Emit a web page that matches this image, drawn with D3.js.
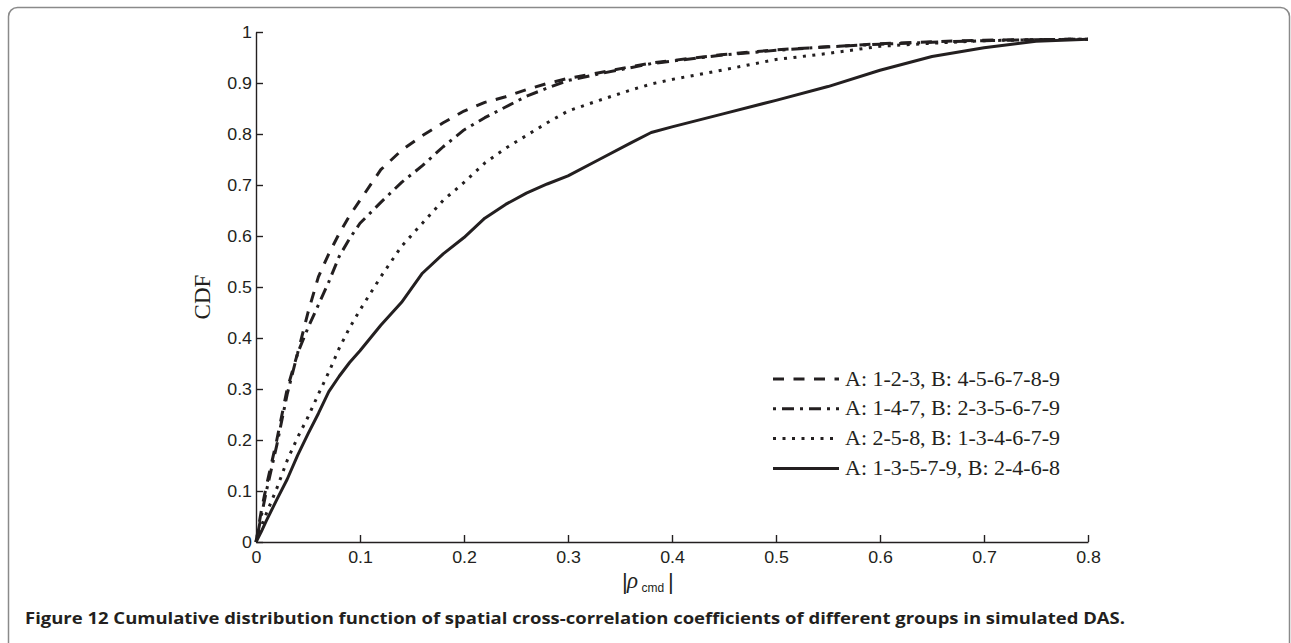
<!DOCTYPE html>
<html>
<head>
<meta charset="utf-8">
<script src="https://cdn.jsdelivr.net/npm/d3@7"></script>
<style>
  body { margin: 0; background: #ffffff; }
  svg { display: block; }
</style>
</head>
<body>
<svg id="chart" width="1291" height="643"></svg>
<script>
// |rho_cmd| sample points shared by all four empirical CDF curves
const rhoGrid = [0, 0.005, 0.01, 0.02, 0.03, 0.04, 0.05, 0.06, 0.07, 0.08, 0.09, 0.10,
  0.12, 0.14, 0.16, 0.18, 0.20, 0.22, 0.24, 0.26, 0.28, 0.30, 0.33, 0.36, 0.38, 0.40,
  0.45, 0.50, 0.55, 0.60, 0.65, 0.70, 0.75, 0.80];

// A: 1-2-3, B: 4-5-6-7-8-9
const cdfA123 = [0, 0.06, 0.11, 0.20, 0.30, 0.37, 0.45, 0.52, 0.565, 0.605, 0.64, 0.67,
  0.73, 0.768, 0.797, 0.822, 0.845, 0.862, 0.873, 0.887, 0.899, 0.909, 0.92, 0.932, 0.939, 0.944,
  0.956, 0.965, 0.971, 0.977, 0.981, 0.984, 0.985, 0.986];

// A: 1-4-7, B: 2-3-5-6-7-9
const cdfA147 = [0, 0.05, 0.10, 0.19, 0.29, 0.37, 0.42, 0.465, 0.51, 0.56, 0.595, 0.625,
  0.666, 0.705, 0.738, 0.775, 0.808, 0.832, 0.853, 0.874, 0.89, 0.905, 0.918, 0.93, 0.938, 0.943,
  0.955, 0.964, 0.971, 0.976, 0.98, 0.983, 0.985, 0.986];

// A: 2-5-8, B: 1-3-4-6-7-9
const cdfA258 = [0, 0.03, 0.056, 0.105, 0.16, 0.205, 0.245, 0.29, 0.333, 0.38, 0.42, 0.455,
  0.52, 0.58, 0.625, 0.67, 0.705, 0.743, 0.772, 0.797, 0.822, 0.845, 0.866, 0.886, 0.898, 0.907,
  0.926, 0.946, 0.958, 0.972, 0.978, 0.983, 0.985, 0.986];

// A: 1-3-5-7-9, B: 2-4-6-8
const cdfA13579 = [0, 0.02, 0.042, 0.083, 0.123, 0.17, 0.212, 0.252, 0.295, 0.325, 0.352, 0.375,
  0.425, 0.47, 0.527, 0.565, 0.597, 0.635, 0.662, 0.684, 0.702, 0.718, 0.75, 0.782, 0.803, 0.814,
  0.84, 0.866, 0.893, 0.925, 0.952, 0.969, 0.982, 0.986];

const seriesLabels = [
  "A: 1-2-3, B: 4-5-6-7-8-9",
  "A: 1-4-7, B: 2-3-5-6-7-9",
  "A: 2-5-8, B: 1-3-4-6-7-9",
  "A: 1-3-5-7-9, B: 2-4-6-8"
];

const xTicks = [0, 0.1, 0.2, 0.3, 0.4, 0.5, 0.6, 0.7, 0.8];
const yTicks = [0, 0.1, 0.2, 0.3, 0.4, 0.5, 0.6, 0.7, 0.8, 0.9, 1];

const yLabel = "CDF";
const captionLead = "Figure 12";
const captionBody = " Cumulative distribution function of spatial cross-correlation coefficients of different groups in simulated DAS.";

// ---- drawing ----
const ink = "#231f20";
const lineStyles = ["11,9.5", "3,6,12,6", "3,6.5", null];
const seriesValues = [cdfA123, cdfA147, cdfA258, cdfA13579];

const svg = d3.select("#chart");

// figure frame
svg.append("rect")
  .attr("x", 8.5).attr("y", 7.5)
  .attr("width", 1281).attr("height", 700)
  .attr("rx", 9).attr("ry", 9)
  .attr("fill", "none")
  .attr("stroke", "#8a8a8a")
  .attr("stroke-width", 1.5);

const x = d3.scaleLinear().domain([0, 0.8]).range([256, 1088]);
const y = d3.scaleLinear().domain([0, 1]).range([542, 32]);
const stretch = 1.08;

// x axis, ticks pointing inward
const gx = svg.append("g")
  .attr("transform", `translate(0,${y(0)})`)
  .call(d3.axisBottom(x).tickValues(xTicks).tickSizeInner(-7).tickSizeOuter(0)
    .tickFormat(d3.format("~g")));
gx.selectAll("text")
  .attr("y", 9.5)
  .attr("transform", `scale(${stretch},1)`);

// y axis, ticks pointing inward
const gy = svg.append("g")
  .attr("transform", `translate(${x(0)},0)`)
  .call(d3.axisLeft(y).tickValues(yTicks).tickSizeInner(-7).tickSizeOuter(0)
    .tickFormat(d3.format("~g")));
gy.selectAll("text")
  .attr("x", -4 / stretch)
  .attr("transform", `scale(${stretch},1)`);

[gx, gy].forEach(g => {
  g.selectAll("path.domain").attr("stroke", ink).attr("stroke-width", 1.4);
  g.selectAll(".tick line").attr("stroke", ink).attr("stroke-width", 1.4);
  g.selectAll("text")
    .attr("fill", ink)
    .style("font-family", "'Liberation Sans', Arial, sans-serif")
    .style("font-size", "16.5px");
});

// curves
const line = d3.line()
  .x((d, i) => x(rhoGrid[i]))
  .y(d => y(d));

seriesValues.forEach((vals, k) => {
  svg.append("path")
    .datum(vals)
    .attr("d", line)
    .attr("fill", "none")
    .attr("stroke", ink)
    .attr("stroke-width", 3)
    .attr("stroke-linejoin", "round")
    .attr("stroke-dasharray", lineStyles[k]);
});

// legend
const legendTop = 379, legendStep = 29.8;
seriesLabels.forEach((label, k) => {
  const ly = legendTop + k * legendStep;
  svg.append("line")
    .attr("x1", 773).attr("x2", 839)
    .attr("y1", ly).attr("y2", ly)
    .attr("stroke", ink)
    .attr("stroke-width", 3)
    .attr("stroke-dasharray", lineStyles[k]);
  svg.append("text")
    .attr("transform", `translate(845,${ly + 6.5}) scale(1.1,1)`)
    .attr("fill", ink)
    .style("font-family", "'Liberation Serif', 'Times New Roman', serif")
    .style("font-size", "20px")
    .text(label);
});

// y axis title
svg.append("text")
  .attr("transform", `translate(210,297) rotate(-90)`)
  .attr("text-anchor", "middle")
  .attr("fill", ink)
  .style("font-family", "'Liberation Serif', 'Times New Roman', serif")
  .style("font-size", "23px")
  .text(yLabel);

// x axis title |rho_cmd|
const xt = svg.append("text")
  .attr("fill", ink)
  .style("font-family", "'Liberation Sans', Arial, sans-serif");
xt.append("tspan").attr("x", 622).attr("y", 589).style("font-size", "22px").text("|");
xt.append("tspan").attr("x", 627).attr("y", 588)
  .style("font-family", "'Liberation Serif', 'Times New Roman', serif")
  .style("font-style", "italic").style("font-size", "23px").text("ρ");
xt.append("tspan").attr("x", 641.5).attr("y", 592).style("font-size", "12px").text("cmd");
xt.append("tspan").attr("x", 668).attr("y", 589).style("font-size", "22px").text("|");

// caption
const cap = svg.append("text")
  .attr("x", 25).attr("y", 624)
  .attr("fill", ink)
  .style("font-family", "'Open Sans', 'Noto Sans', sans-serif")
  .style("font-weight", "700")
  .style("font-size", "15.5px")
  .attr("textLength", 1100)
  .attr("lengthAdjust", "spacingAndGlyphs");
cap.append("tspan").text(captionLead);
cap.append("tspan").text(captionBody);
</script>
</body>
</html>
